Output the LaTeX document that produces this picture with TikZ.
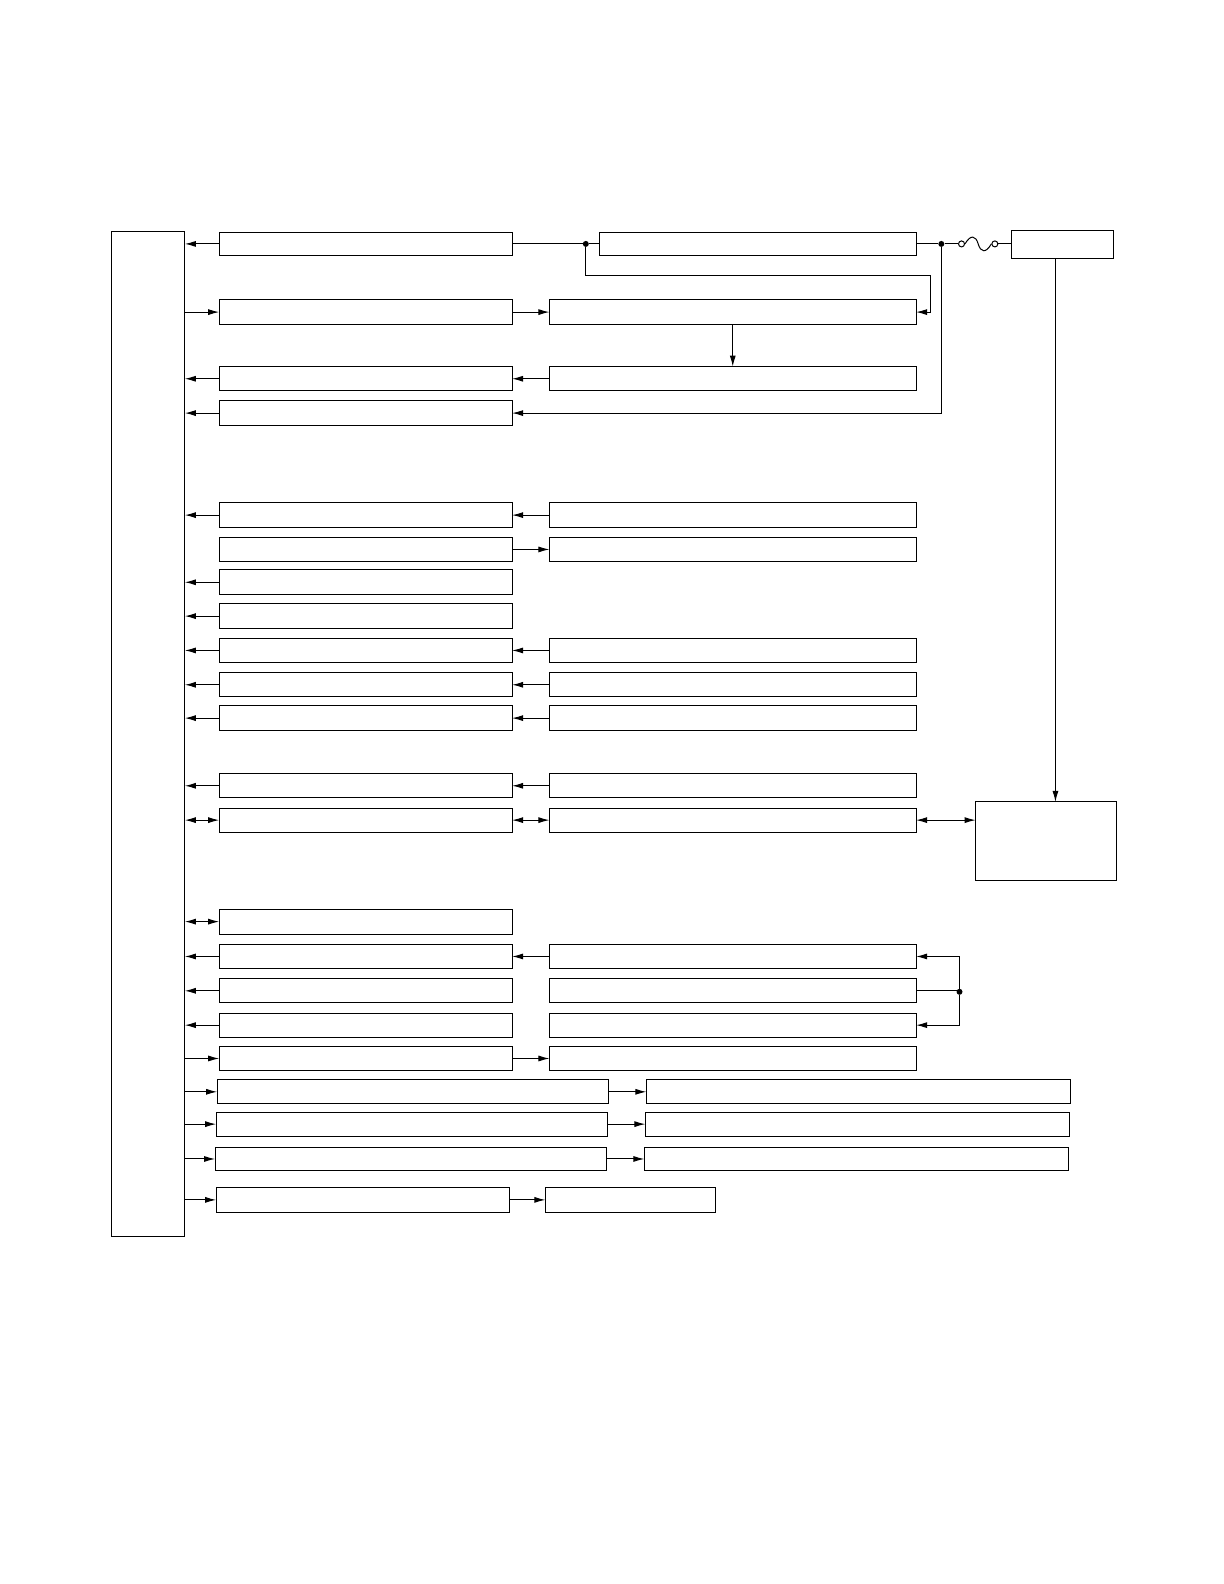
\documentclass[tikz,border=0pt]{standalone}
\usetikzlibrary{arrows.meta}
\tikzset{
  box/.style={draw,line width=1bp,inner sep=0pt,outer sep=0pt,anchor=north west},
  ln/.style={line width=1bp},
  tip/.tip={Latex[length=11bp,width=6bp]},
  arr/.style={ln,-tip},
  darr/.style={ln,tip-tip},
  dot/.style={circle,fill,inner sep=0pt,minimum size=6bp},
  ring/.style={circle,draw,line width=1bp,inner sep=0pt,minimum size=6bp}
}
\newcommand\bx[5]{\node[box,minimum width={(#4-#2)*1.01bp},minimum height={(#5-#3)*1.01bp}] (#1) at (#2,#3) {};}
\begin{document}
\begin{tikzpicture}[x=1.01bp,y=-1.01bp]
\useasboundingbox (0,0) rectangle (1211.88,1568.32);
% main box
\bx{M}{110}{229}{183}{1224}
% left column
\bx{L1}{217}{230}{507}{253}
\bx{L2}{217}{297}{507}{321}
\bx{L3}{217}{363}{507}{387}
\bx{L4}{217}{397}{507}{421}
\bx{L5}{217}{498}{507}{522}
\bx{L6}{217}{532}{507}{556}
\bx{L7}{217}{564}{507}{589}
\bx{L8}{217}{598}{507}{622}
\bx{L9}{217}{632}{507}{656}
\bx{L10}{217}{666}{507}{690}
\bx{L11}{217}{699}{507}{723}
\bx{L12}{217}{766}{507}{790}
\bx{L13}{217}{800}{507}{824}
\bx{L14}{217}{900}{507}{925}
\bx{L15}{217}{935}{507}{959}
\bx{L16}{217}{969}{507}{993}
\bx{L17}{217}{1003}{507}{1027}
\bx{L18}{217}{1036}{507}{1060}
\bx{L19}{215}{1069}{602}{1093}
\bx{L20}{214}{1101}{601}{1125}
\bx{L21}{213}{1136}{600}{1159}
\bx{L22}{214}{1176}{504}{1200}
% right column
\bx{A1}{594}{230}{907}{253}
\bx{A2}{544}{297}{907}{321}
\bx{A3}{544}{363}{907}{387}
\bx{A5}{544}{498}{907}{522}
\bx{A6}{544}{532}{907}{556}
\bx{A9}{544}{632}{907}{656}
\bx{A10}{544}{666}{907}{690}
\bx{A11}{544}{699}{907}{723}
\bx{A12}{544}{766}{907}{790}
\bx{A13}{544}{800}{907}{824}
\bx{A15}{544}{935}{907}{959}
\bx{A16}{544}{969}{907}{993}
\bx{A17}{544}{1003}{907}{1027}
\bx{A18}{544}{1036}{907}{1060}
\bx{A19}{640}{1069}{1060}{1093}
\bx{A20}{639}{1101}{1059}{1125}
\bx{A21}{638}{1136}{1058}{1159}
\bx{A22}{540}{1176}{708}{1200}
\bx{PS}{1001}{228}{1102}{256}
\bx{BB}{966}{794}{1105}{872}
% left connectors into main box
\foreach \n in {L1,L3,L4,L5,L7,L8,L9,L10,L11,L12,L15,L16,L17}
  \draw[arr] (\n.west) -- (M.east |- \n.west);
\foreach \n in {L2,L18,L19,L20,L21,L22}
  \draw[arr] (M.east |- \n.west) -- (\n.west);
\foreach \n in {L13,L14}
  \draw[darr] (M.east |- \n.west) -- (\n.west);
% middle connectors
\draw[arr] (L2.east) -- (A2.west);
\draw[arr] (A3.west) -- (L3.east);
\draw[arr] (A5.west) -- (L5.east);
\draw[arr] (L6.east) -- (A6.west);
\draw[arr] (A9.west) -- (L9.east);
\draw[arr] (A10.west) -- (L10.east);
\draw[arr] (A11.west) -- (L11.east);
\draw[arr] (A12.west) -- (L12.east);
\draw[darr] (L13.east) -- (A13.west);
\draw[arr] (A15.west) -- (L15.east);
\draw[arr] (L18.east) -- (A18.west);
\draw[arr] (L19.east) -- (A19.west);
\draw[arr] (L20.east) -- (A20.west);
\draw[arr] (L21.east) -- (A21.west);
\draw[arr] (L22.east) -- (A22.west);
% top section
\node[dot] (j1) at (580,241.5) {};
\node[dot] (j2) at (932,241.5) {};
\draw[ln] (L1.east) -- (j1) -- (A1.west);
\draw[ln] (A1.east) -- (j2);
\draw[arr] (j1) -- (580,273) -- (921,273) -- (921,309) -- (A2.east);
\draw[arr] (A2.south) -- (A3.north);
\draw[arr] (j2) -- (932,409) -- (L4.east);
% fuse
\node[ring] (f1) at (952,241.5) {};
\node[ring] (f2) at (985,241.5) {};
\draw[ln] (j2) -- (f1.west);
\draw[ln] (f1.east) .. controls (961,232) and (966,233) .. (968.5,241.5) .. controls (971,250) and (976,251) .. (f2.west);
\draw[ln] (f2.east) -- (f2.east -| PS.west);
\coordinate (pstap) at (1045,256);
\draw[arr] (pstap) -- (pstap |- BB.north);
\draw[darr] (A13.east) -- (BB.west |- A13.east);
% right-side junction
\node[dot] (j3) at (950,982) {};
\draw[ln] (A16.east) -- (A16.east -| j3) -- (j3);
\draw[arr] (j3) -- (950,947) -- (A15.east);
\draw[arr] (j3) -- (950,1015) -- (A17.east);
\end{tikzpicture}
\end{document}
